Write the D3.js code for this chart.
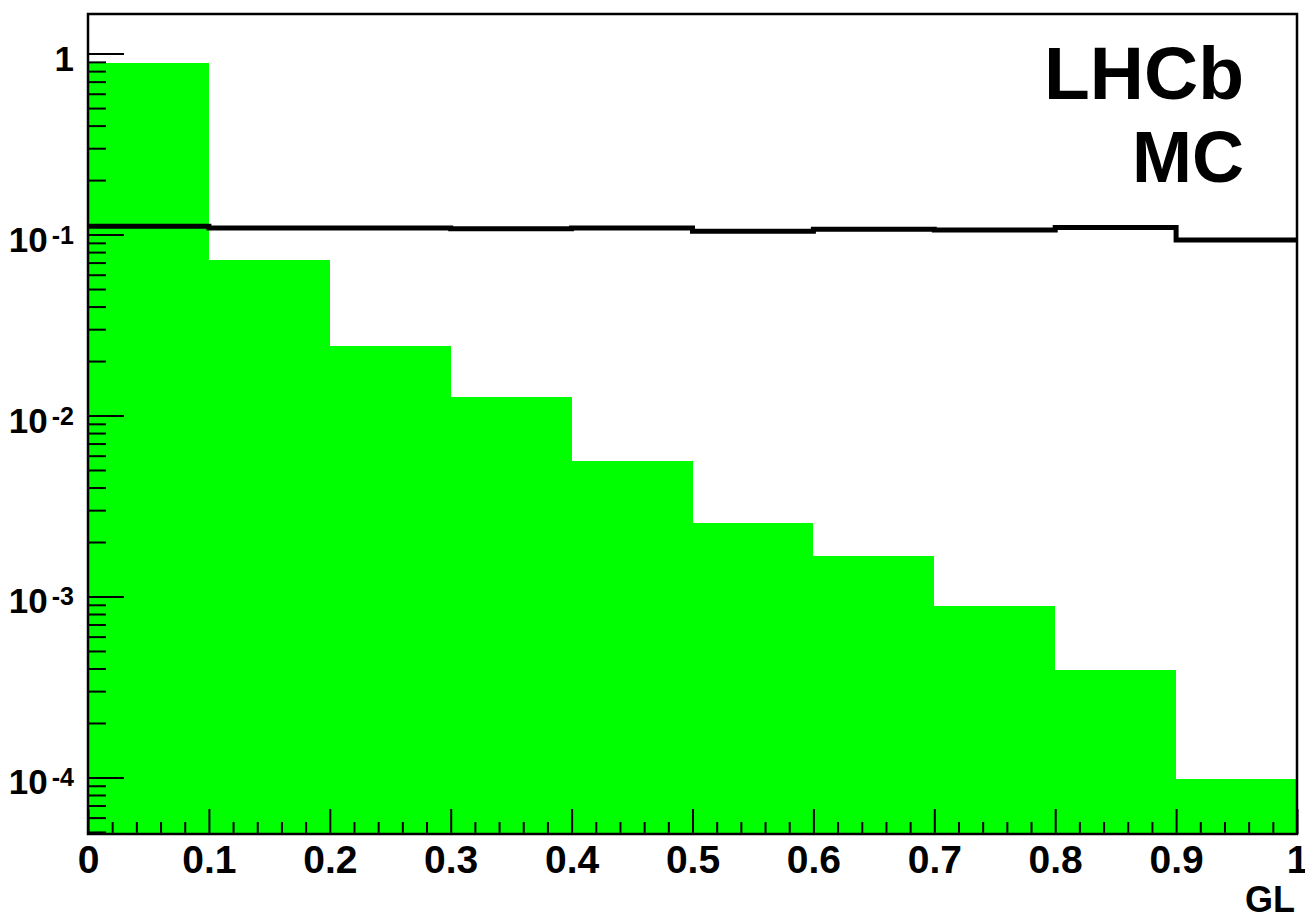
<!DOCTYPE html>
<html>
<head>
<meta charset="utf-8">
<script src="https://cdn.jsdelivr.net/npm/d3@7"></script>
<style>
  html, body { margin: 0; padding: 0; background: #fff; }
  svg { display: block; }
  text { font-family: "Liberation Sans", Arial, Helvetica, sans-serif; font-weight: bold; fill: #000; }
</style>
</head>
<body>
<svg id="chart" width="1305" height="917"></svg>
<script>
// Histogram bins in GL (lower edges), width 0.1
const binLow = [0.0, 0.1, 0.2, 0.3, 0.4, 0.5, 0.6, 0.7, 0.8, 0.9];
const binWidth = 0.1;

// Signal (filled green) and background (black line) normalised fractions per bin
const signal = [0.891, 0.0721, 0.0243, 0.01265, 0.00560, 0.002545, 0.001667, 0.000882, 0.000392, 0.0000980];
const background = [0.1110, 0.1087, 0.1087, 0.1077, 0.1087, 0.1042, 0.1069, 0.1060, 0.1094, 0.0933];

// Axis ticks and labels
const xMajor = [0, 0.1, 0.2, 0.3, 0.4, 0.5, 0.6, 0.7, 0.8, 0.9, 1.0];
const xLabels = ["0", "0.1", "0.2", "0.3", "0.4", "0.5", "0.6", "0.7", "0.8", "0.9", "1"];
const yMajor = [1e-4, 1e-3, 1e-2, 1e-1, 1];
const yLabelBase = ["10", "10", "10", "10", "1"];
const yLabelExp = ["-4", "-3", "-2", "-1", ""];
const xTitle = "GL";
const tagLines = ["LHCb", "MC"];

const frame = { left: 88, right: 1297, top: 14, bottom: 834 };

const svg = d3.select("#chart");

const x = d3.scaleLinear().domain([0, 1]).range([frame.left, frame.right]);
const y = d3.scaleLog().domain([4.87e-5, 1.655]).range([frame.bottom, frame.top]);

// Filled signal histogram
svg.append("g")
  .selectAll("rect")
  .data(binLow)
  .join("rect")
  .attr("x", d => x(d))
  .attr("width", d => x(d + binWidth) - x(d))
  .attr("y", (d, i) => y(signal[i]))
  .attr("height", (d, i) => frame.bottom - y(signal[i]))
  .attr("fill", "#00ff00")
  .attr("shape-rendering", "crispEdges");

// Background histogram as a step line
const stepPts = binLow.map((d, i) => [d, background[i]]);
stepPts.push([1.0, background[background.length - 1]]);
const stepLine = d3.line()
  .x(d => x(d[0]))
  .y(d => y(d[1]))
  .curve(d3.curveStepAfter);
svg.append("path")
  .attr("d", stepLine(stepPts))
  .attr("fill", "none")
  .attr("stroke", "#000")
  .attr("stroke-width", 5);

// X axis: major and minor ticks pointing into the frame
const xMinor = d3.range(0, 1.0001, 0.02).filter(v => xMajor.every(m => Math.abs(m - v) > 1e-6));
svg.append("g")
  .attr("transform", `translate(0,${frame.bottom})`)
  .call(d3.axisBottom(x).tickValues(xMinor).tickSize(-12).tickFormat(""));
const xAxisMajor = svg.append("g")
  .attr("transform", `translate(0,${frame.bottom})`)
  .call(d3.axisBottom(x).tickValues(xMajor).tickSize(-25).tickPadding(0)
    .tickFormat((d, i) => xLabels[i]));
xAxisMajor.selectAll("text")
  .attr("y", 39)
  .attr("dy", 0)
  .style("font-size", "39px")
  .style("font-family", "'Liberation Sans', Arial, sans-serif")
  .style("font-weight", "bold")
  .attr("fill", "#000");

// Y axis: log ticks, majors at decades and minors at 2..9
const yMinor = [];
[-5, -4, -3, -2, -1, 0].forEach(e => {
  for (let k = 2; k <= 9; k++) {
    const v = k * Math.pow(10, e);
    if (v >= y.domain()[0] && v <= y.domain()[1]) yMinor.push(v);
  }
});
svg.append("g")
  .attr("transform", `translate(${frame.left},0)`)
  .call(d3.axisLeft(y).tickValues(yMinor).tickSize(-18).tickFormat(""));
svg.append("g")
  .attr("transform", `translate(${frame.left},0)`)
  .call(d3.axisLeft(y).tickValues(yMajor).tickSize(-36).tickFormat(""));

// Y tick labels with superscript exponents
const yLab = svg.append("g");
yMajor.forEach((v, i) => {
  const t = yLab.append("text")
    .attr("x", 74)
    .attr("y", y(v) + 17)
    .attr("text-anchor", "end")
    .style("font-size", "35px");
  t.append("tspan").text(yLabelBase[i]);
  if (yLabelExp[i]) {
    t.append("tspan")
      .attr("dx", 4)
      .attr("dy", -8)
      .style("font-size", "25px")
      .text(yLabelExp[i]);
  }
});

// Style axis strokes
svg.selectAll(".domain").remove();
svg.selectAll(".tick line").attr("stroke", "#000").attr("stroke-width", 2);

// Frame
svg.append("rect")
  .attr("x", frame.left)
  .attr("y", frame.top)
  .attr("width", frame.right - frame.left)
  .attr("height", frame.bottom - frame.top)
  .attr("fill", "none")
  .attr("stroke", "#000")
  .attr("stroke-width", 2.5);

// Axis title
svg.append("text")
  .attr("x", 1295)
  .attr("y", 912)
  .attr("text-anchor", "end")
  .style("font-size", "36px")
  .text(xTitle);

// Experiment tag
svg.append("text")
  .attr("x", 1244)
  .attr("y", 99)
  .attr("text-anchor", "end")
  .style("font-size", "75px")
  .text(tagLines[0]);
svg.append("text")
  .attr("x", 1244)
  .attr("y", 182)
  .attr("text-anchor", "end")
  .style("font-size", "72px")
  .text(tagLines[1]);
</script>
</body>
</html>
